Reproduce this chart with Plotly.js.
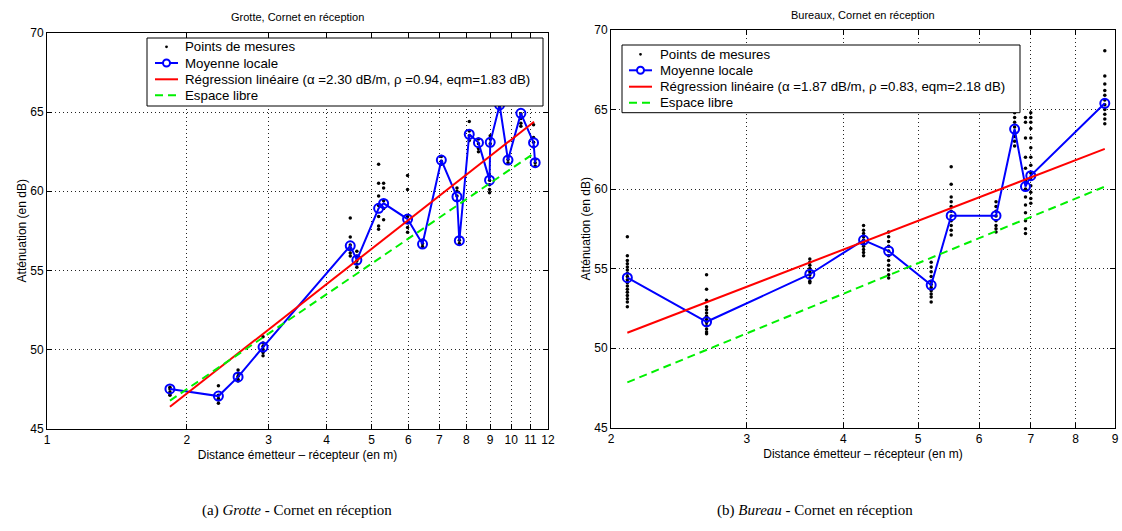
<!DOCTYPE html>
<html><head><meta charset="utf-8">
<script src="https://cdn.plot.ly/plotly-3.0.1.min.js"></script>
<style>html,body{margin:0;padding:0;background:#fff}#chart{width:1122px;height:531px}</style>
</head><body><div id="chart"></div><script>
// ---------- Grotte (left) ----------
const grotteDist = [1.84, 2.34, 2.58, 2.92, 4.50, 4.65, 5.18, 5.31, 5.98, 6.44, 7.07, 7.64, 7.73, 8.12, 8.50, 8.98, 9.01, 9.44, 9.84, 10.49, 11.17, 11.26];
const grotteMean = [47.5, 47.05, 48.26, 50.15, 56.55, 55.65, 58.92, 59.23, 58.24, 56.66, 61.97, 59.65, 56.87, 63.6, 63.07, 60.7, 63.09, 65.45, 61.97, 64.92, 63.07, 61.8];
const grotteDots = [
  [47.6, 47.5, 47.3, 47.2, 47.1],
  [47.7, 47.1, 46.9, 46.8, 46.6],
  [48.7, 48.5, 48.3, 48.1, 48.0],
  [50.8, 50.4, 50.2, 50.0, 49.8, 49.6],
  [58.3, 57.1, 56.6, 56.3, 56.1, 55.9],
  [56.2, 55.9, 55.6, 55.4, 55.2],
  [61.7, 60.5, 59.7, 59.1, 58.4, 57.8, 57.6],
  [60.5, 60.2, 59.4, 58.9, 58.2],
  [61.0, 60.1, 58.4, 58.0, 57.7, 57.4],
  [56.9, 56.7, 56.5],
  [62.2, 61.9, 61.7],
  [60.2, 60.0, 59.7, 59.4],
  [57.1, 56.9, 56.7],
  [64.4, 63.8, 63.5, 63.2],
  [63.3, 63.0, 62.7, 62.5],
  [61.0, 60.7, 60.4, 60.1, 59.9],
  [63.5, 63.3, 63.0],
  [65.5, 65.3],
  [62.2, 62.0, 61.8],
  [64.9, 64.6, 64.3, 64.1],
  [64.2, 63.4, 63.1, 62.8],
  [62.0, 61.8, 61.6]
];
const grotteRegX = [1.84, 11.2];
const grotteRegY = [46.38, 64.39];
const grotteFreeX = [1.84, 11.2];
const grotteFreeY = [46.76, 62.4];
const grotteXTicks = [1, 2, 3, 4, 5, 6, 7, 8, 9, 10, 11, 12];

// ---------- Bureaux (right) ----------
const bureauDist = [2.10, 2.66, 3.62, 4.25, 4.58, 5.20, 5.52, 6.31, 6.67, 6.89, 7.00, 8.73];
const bureauMean = [54.42, 51.65, 54.64, 56.79, 56.1, 53.96, 58.32, 58.32, 63.77, 60.15, 60.84, 65.39];
const bureauDots = [
  [57.0, 55.8, 55.5, 55.3, 55.1, 54.9, 54.7, 54.5, 54.3, 54.1, 53.9, 53.7, 53.5, 53.3, 53.1, 52.9, 52.6],
  [54.6, 53.7, 53.0, 52.6, 52.4, 52.2, 52.0, 51.8, 51.6, 51.4, 51.2, 51.0, 50.9],
  [55.6, 55.4, 55.2, 55.0, 54.8, 54.6, 54.4, 54.2, 54.1],
  [57.7, 57.4, 57.2, 57.0, 56.8, 56.6, 56.4, 56.2, 56.0, 55.8],
  [57.3, 57.0, 56.7, 56.4, 56.1, 55.8, 55.5, 55.2, 54.9, 54.6, 54.4],
  [55.4, 55.1, 54.8, 54.5, 54.2, 54.0, 53.8, 53.6, 53.4, 53.2, 52.9],
  [61.4, 60.3, 59.5, 59.2, 58.9, 58.6, 58.3, 58.0, 57.7, 57.4, 57.1],
  [59.2, 58.9, 58.6, 58.3, 58.0, 57.7, 57.5, 57.3],
  [64.8, 64.5, 64.2, 63.9, 63.6, 63.3, 63.0, 62.7],
  [64.5, 64.2, 63.2, 62.0, 61.3, 60.5, 60.0, 59.5, 59.0, 58.5, 58.0, 57.5, 57.2],
  [64.8, 64.5, 64.2, 63.8, 63.2, 62.6, 62.0, 61.5, 61.0, 60.6, 60.2, 59.8, 59.4, 59.1],
  [68.7, 67.1, 66.6, 66.2, 65.9, 65.6, 65.3, 65.0, 64.7, 64.4, 64.1]
];
const bureauRegX = [2.10, 8.73];
const bureauRegY = [50.96, 62.52];
const bureauFreeX = [2.10, 8.73];
const bureauFreeY = [47.84, 60.15];
const bureauXTicks = [2, 3, 4, 5, 6, 7, 8, 9];

const yTicks = [45, 50, 55, 60, 65, 70];

const legendNames = ['Points de mesures', 'Moyenne locale', 'Espace libre'];
const grotteRegLabel = 'Régression linéaire (α =2.30 dB/m, ρ =0.94, eqm=1.83 dB)';
const bureauRegLabel = 'Régression linéaire (α =1.87 dB/m, ρ =0.83, eqm=2.18 dB)';

const FONT = 'Liberation Sans, Arial, sans-serif';
const BLUE = '#0000ff', RED = '#ff0000', GREEN = '#00f000';
const GREEN_DASH = '8px,5px';

function flat(dist, dots) {
  const x = [], y = [];
  dots.forEach((col, i) => col.forEach(v => { x.push(dist[i]); y.push(v); }));
  return {x, y};
}
const gd = flat(grotteDist, grotteDots);
const bd = flat(bureauDist, bureauDots);

function traces(dots, dist, mean, rx, ry, fx, fy, xa, ya, regLabel) {
  return [
    {x: dots.x, y: dots.y, mode: 'markers', type: 'scatter', name: legendNames[0],
     marker: {color: 'black', size: 3.5}, xaxis: xa, yaxis: ya, showlegend: false},
    {x: dist, y: mean, mode: 'lines+markers', type: 'scatter', name: legendNames[1],
     line: {color: BLUE, width: 2},
     marker: {symbol: 'circle-open', size: 9, color: BLUE, line: {width: 2, color: BLUE}},
     xaxis: xa, yaxis: ya, showlegend: false},
    {x: rx, y: ry, mode: 'lines', type: 'scatter', name: regLabel,
     line: {color: RED, width: 2}, xaxis: xa, yaxis: ya, showlegend: false},
    {x: fx, y: fy, mode: 'lines', type: 'scatter', name: legendNames[2],
     line: {color: GREEN, width: 2, dash: GREEN_DASH}, xaxis: xa, yaxis: ya, showlegend: false}
  ];
}

const data = [
  ...traces(gd, grotteDist, grotteMean, grotteRegX, grotteRegY, grotteFreeX, grotteFreeY, 'x', 'y', grotteRegLabel),
  ...traces(bd, bureauDist, bureauMean, bureauRegX, bureauRegY, bureauFreeX, bureauFreeY, 'x2', 'y2', bureauRegLabel)
];

const W = 1122, H = 531;
const PX = v => v / W, PY = v => 1 - v / H;

function axisCommon() {
  return {
    showline: true, mirror: 'ticks', linecolor: 'black', linewidth: 1,
    ticks: 'inside', ticklen: 5, tickcolor: 'black', tickwidth: 1,
    showgrid: true, gridcolor: '#222', griddash: '1px,3px', gridwidth: 1,
    zeroline: false, tickfont: {family: FONT, size: 12, color: 'black'},
    automargin: false
  };
}
const titleFont = {family: FONT, size: 12, color: 'black'};

// custom legend boxes (MATLAB-style compact legend)
function legendBox(box, rows, symX0, symX1, textX, regLabel) {
  const shapes = [], anns = [];
  const p = {xref: 'paper', yref: 'paper'};
  shapes.push(Object.assign({type: 'rect', x0: PX(box[0]), x1: PX(box[1]), y0: PY(box[2]), y1: PY(box[3]),
    line: {color: 'black', width: 1}, fillcolor: 'white', layer: 'above'}, p));
  const cx = (symX0 + symX1) / 2;
  shapes.push(Object.assign({type: 'circle', x0: PX(cx - 1.4), x1: PX(cx + 1.4), y0: PY(rows[0] - 1.4), y1: PY(rows[0] + 1.4),
    line: {color: 'black', width: 0}, fillcolor: 'black', layer: 'above'}, p));
  shapes.push(Object.assign({type: 'line', x0: PX(symX0), x1: PX(symX1), y0: PY(rows[1]), y1: PY(rows[1]),
    line: {color: BLUE, width: 2}, layer: 'above'}, p));
  shapes.push(Object.assign({type: 'circle', x0: PX(cx - 3.5), x1: PX(cx + 3.5), y0: PY(rows[1] - 3.5), y1: PY(rows[1] + 3.5),
    line: {color: BLUE, width: 2}, fillcolor: 'white', layer: 'above'}, p));
  shapes.push(Object.assign({type: 'line', x0: PX(symX0), x1: PX(symX1), y0: PY(rows[2]), y1: PY(rows[2]),
    line: {color: RED, width: 2}, layer: 'above'}, p));
  shapes.push(Object.assign({type: 'line', x0: PX(symX0), x1: PX(symX1), y0: PY(rows[3]), y1: PY(rows[3]),
    line: {color: GREEN, width: 2, dash: GREEN_DASH}, layer: 'above'}, p));
  const labels = [legendNames[0], legendNames[1], regLabel, legendNames[2]];
  labels.forEach((t, i) => anns.push(Object.assign({text: t, x: PX(textX), y: PY(rows[i]), xanchor: 'left', yanchor: 'middle',
    showarrow: false, borderpad: 0, font: {family: FONT, size: 13.3, color: 'black'}}, p)));
  return {shapes, anns};
}
const L1 = legendBox([147, 543, 38, 106], [46.8, 63, 79.3, 95.3], 155, 178, 184, grotteRegLabel);
const L2 = legendBox([622, 1020, 45, 112.7], [54.3, 70.3, 86.7, 102.7], 629, 652, 659, bureauRegLabel);

const layout = {
  width: W, height: H,
  margin: {l: 0, r: 0, t: 0, b: 0},
  paper_bgcolor: 'white', plot_bgcolor: 'white',
  font: {family: FONT, size: 12, color: 'black'},
  showlegend: false,
  xaxis: Object.assign(axisCommon(), {
    type: 'log', range: [0, Math.log10(12)], domain: [PX(47), PX(548)], anchor: 'y',
    tickvals: grotteXTicks, ticktext: grotteXTicks.map(String),
    title: {text: 'Distance émetteur – récepteur (en m)', font: titleFont, standoff: 4}
  }),
  yaxis: Object.assign(axisCommon(), {
    range: [45, 70], domain: [PY(428.5), PY(33)], anchor: 'x',
    tickvals: yTicks,
    title: {text: 'Atténuation (en dB)', font: titleFont, standoff: 1}
  }),
  xaxis2: Object.assign(axisCommon(), {
    type: 'log', range: [Math.log10(2), Math.log10(9)], domain: [PX(611), PX(1115)], anchor: 'y2',
    tickvals: bureauXTicks, ticktext: bureauXTicks.map(String),
    title: {text: 'Distance émetteur – récepteur (en m)', font: titleFont, standoff: 4}
  }),
  yaxis2: Object.assign(axisCommon(), {
    range: [45, 70], domain: [PY(427.5), PY(30)], anchor: 'x2',
    tickvals: yTicks,
    title: {text: 'Atténuation (en dB)', font: titleFont, standoff: 1}
  }),
  shapes: [...L1.shapes, ...L2.shapes],
  annotations: [
    ...L1.anns, ...L2.anns,
    {text: 'Grotte, Cornet en réception', x: PX(297.5), y: PY(17), xref: 'paper', yref: 'paper',
     showarrow: false, font: {family: FONT, size: 11, color: 'black'}, xanchor: 'center', yanchor: 'middle'},
    {text: 'Bureaux, Cornet en réception', x: PX(863), y: PY(15), xref: 'paper', yref: 'paper',
     showarrow: false, font: {family: FONT, size: 11, color: 'black'}, xanchor: 'center', yanchor: 'middle'},
    {text: '(a) <i>Grotte</i> - Cornet en réception', x: PX(297), y: PY(510), xref: 'paper', yref: 'paper',
     showarrow: false, font: {family: 'Liberation Serif, Times New Roman, serif', size: 15, color: 'black'},
     xanchor: 'center', yanchor: 'middle'},
    {text: '(b) <i>Bureau</i> - Cornet en réception', x: PX(815), y: PY(510), xref: 'paper', yref: 'paper',
     showarrow: false, font: {family: 'Liberation Serif, Times New Roman, serif', size: 15, color: 'black'},
     xanchor: 'center', yanchor: 'middle'}
  ]
};

Plotly.newPlot('chart', data, layout, {displayModeBar: false, staticPlot: true});
</script></body></html>
